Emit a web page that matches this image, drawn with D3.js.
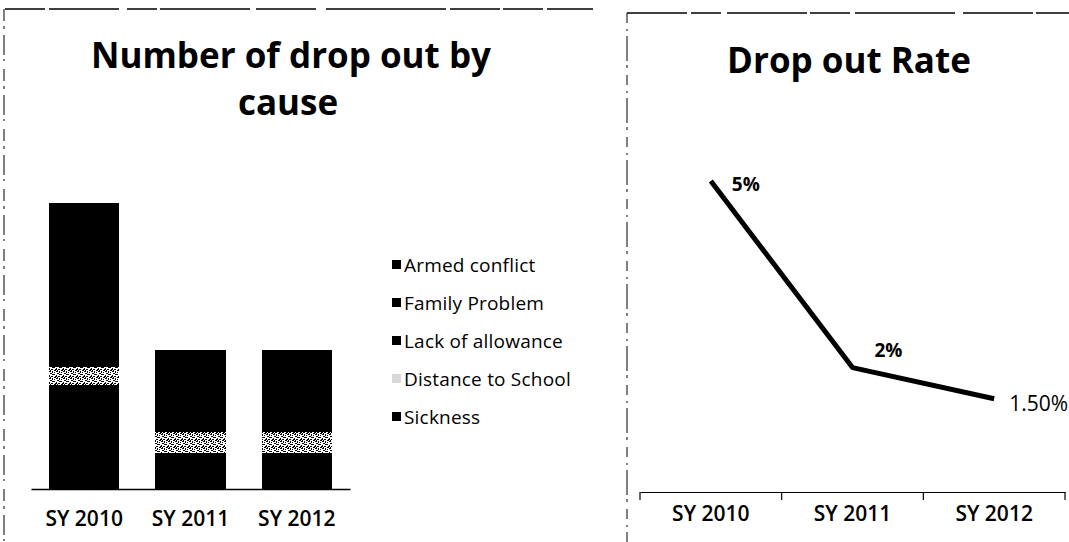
<!DOCTYPE html>
<html>
<head>
<meta charset="utf-8">
<script src="https://cdn.jsdelivr.net/npm/d3@7"></script>
<style>
  html, body { margin: 0; padding: 0; background: #fff; }
  svg { display: block; }
  text { font-family: "Open Sans", "DejaVu Sans", sans-serif; fill: #000; }
</style>
</head>
<body>
<svg id="chart" width="1069" height="542"></svg>
<script>
// School years shared by both panels
const years = ["SY 2010", "SY 2011", "SY 2012"];

// Drop-out causes, bottom of the stack first
const causes = ["Sickness", "Distance to School", "Lack of allowance", "Family Problem", "Armed conflict"];

// Number of drop-outs per cause, one value per school year
const sickness        = [29, 10, 10];
const distanceSchool  = [5, 6, 6];
const lackAllowance   = [22, 12, 12];
const familyProblem   = [16, 8, 7];
const armedConflict   = [8, 3, 4];

// Drop-out rate (%) per school year and its printed labels
const dropRate   = [5, 2, 1.5];
const rateLabels = ["5%", "2%", "1.50%"];

const svg = d3.select("#chart");

// Speckled fill used for the "Distance to School" series
const defs = svg.append("defs");
const pat = defs.append("pattern")
  .attr("id", "speckle").attr("width", 7).attr("height", 7)
  .attr("patternUnits", "userSpaceOnUse");
pat.append("rect").attr("width", 7).attr("height", 7).attr("fill", "#fff");
[[0,0,2,1],[3,0,1,2],[1,2,2,1],[4,3,2,1],[0,4,1,2],[2,5,2,1],[5,1,1,1],[3,3,1,1],[6,5,1,2],[5,6,1,1],[1,6,1,1]].forEach(([x,y,w,h]) => {
  pat.append("rect").attr("x", x).attr("y", y).attr("width", w).attr("height", h).attr("fill", "#000");
});

// Panel frames
const frame = svg.append("g").attr("fill", "none").attr("stroke", "#000").attr("stroke-width", 1.5);
frame.append("line").attr("x1", 5).attr("y1", 9).attr("x2", 593).attr("y2", 9)
  .attr("stroke-dasharray", "40 4 70 8 30 3 90 6 60 10 120 4 50 3");
frame.append("line").attr("x1", 4).attr("y1", 9).attr("x2", 4).attr("y2", 542)
  .attr("stroke-width", 1).attr("stroke-dasharray", "12 5 3 6 20 4 2 8");
frame.append("line").attr("x1", 627).attr("y1", 13).attr("x2", 1069).attr("y2", 13)
  .attr("stroke-dasharray", "60 4 30 6 80 3 40 5 100 8 70 3");
frame.append("line").attr("x1", 627).attr("y1", 13).attr("x2", 627).attr("y2", 542)
  .attr("stroke-width", 1).attr("stroke-dasharray", "10 6 2 5 25 4 3 7");

// ---------- Left panel: stacked bars ----------
const left = svg.append("g");

left.append("text").attr("x", 291).attr("y", 68).attr("text-anchor", "middle")
  .attr("font-size", 35).attr("font-weight", 700).text("Number of drop out by");
left.append("text").attr("x", 288).attr("y", 115).attr("text-anchor", "middle")
  .attr("font-size", 35).attr("font-weight", 700).text("cause");

const series = {
  "Sickness": sickness,
  "Distance to School": distanceSchool,
  "Lack of allowance": lackAllowance,
  "Family Problem": familyProblem,
  "Armed conflict": armedConflict
};
const rows = years.map((y, i) => {
  const r = { year: y };
  causes.forEach(c => r[c] = series[c][i]);
  return r;
});
const stacked = d3.stack().keys(causes)(rows);

const xb = d3.scaleBand().domain(years).range([31, 350]).paddingInner(0.34).paddingOuter(0.17);
const yb = d3.scaleLinear().domain([0, 80]).range([489, 203]);
const fillOf = c => c === "Distance to School" ? "url(#speckle)" : "#000";

left.append("g").selectAll("g").data(stacked).join("g")
  .attr("fill", d => fillOf(d.key))
  .selectAll("rect").data(d => d).join("rect")
  .attr("shape-rendering", "crispEdges")
  .attr("x", d => xb(d.data.year))
  .attr("y", d => Math.round(yb(d[1])))
  .attr("width", xb.bandwidth())
  .attr("height", d => Math.round(yb(d[0])) - Math.round(yb(d[1])));

const xAxisL = left.append("g").attr("transform", "translate(0,489)")
  .call(d3.axisBottom(xb).tickSize(0).tickPadding(22));
xAxisL.select(".domain").attr("stroke", "#000").attr("stroke-width", 1.5);
xAxisL.selectAll("text").attr("font-size", 21).attr("font-weight", 600)
  .attr("font-family", "Open Sans, sans-serif").attr("fill", "#000");

// Legend, top entry is the top of the stack
const legend = left.append("g");
const legendItems = causes.slice().reverse();
const ly = d3.scalePoint().domain(legendItems).range([265, 417]);
legendItems.forEach(c => {
  const g = legend.append("g").attr("transform", `translate(392,${ly(c)})`);
  g.append("rect").attr("x", 0).attr("y", -5).attr("width", 9).attr("height", 9)
    .attr("fill", c === "Distance to School" ? "#d8d8d8" : "#000");
  g.append("text").attr("x", 12).attr("y", 0).attr("dy", "0.35em")
    .attr("font-size", 19).attr("letter-spacing", "0.2").text(c);
});

// ---------- Right panel: drop-out rate line ----------
const right = svg.append("g");

right.append("text").attr("x", 849).attr("y", 73).attr("text-anchor", "middle")
  .attr("font-size", 35).attr("font-weight", 700).text("Drop out Rate");

const xr = d3.scaleBand().domain(years).range([640, 1065]);
const yr = d3.scaleLinear().domain([0, 5]).range([492, 181]);

const xAxisR = right.append("g").attr("transform", "translate(0,492)")
  .call(d3.axisBottom(xr).tickSize(0).tickPadding(14));
xAxisR.select(".domain").attr("stroke", "#000").attr("stroke-width", 1.2);
xAxisR.selectAll("text").attr("font-size", 21).attr("font-weight", 600)
  .attr("font-family", "Open Sans, sans-serif").attr("fill", "#000");
// Tick marks sit on the band boundaries
right.append("g").selectAll("line")
  .data(years.map(y => xr(y)).concat([xr.range()[1]]))
  .join("line")
  .attr("x1", d => d).attr("x2", d => d)
  .attr("y1", 492).attr("y2", 500)
  .attr("stroke", "#000").attr("stroke-width", 1.2);

const cx = d => xr(d) + xr.bandwidth() / 2;
const pts = years.map((y, i) => [cx(y), yr(dropRate[i])]);

right.append("path")
  .attr("d", d3.line()(pts))
  .attr("fill", "none").attr("stroke", "#000").attr("stroke-width", 5)
  .attr("stroke-linejoin", "round");

right.append("g").selectAll("text").data(years).join("text")
  .attr("x", (d, i) => cx(d) + [21, 22, 15][i])
  .attr("y", (d, i) => yr(dropRate[i]) + [3, -17, 5][i])
  .attr("dy", "0.35em")
  .attr("font-size", (d, i) => i < 2 ? 19 : 21)
  .attr("font-weight", (d, i) => i < 2 ? 700 : 400)
  .text((d, i) => rateLabels[i]);
</script>
</body>
</html>
